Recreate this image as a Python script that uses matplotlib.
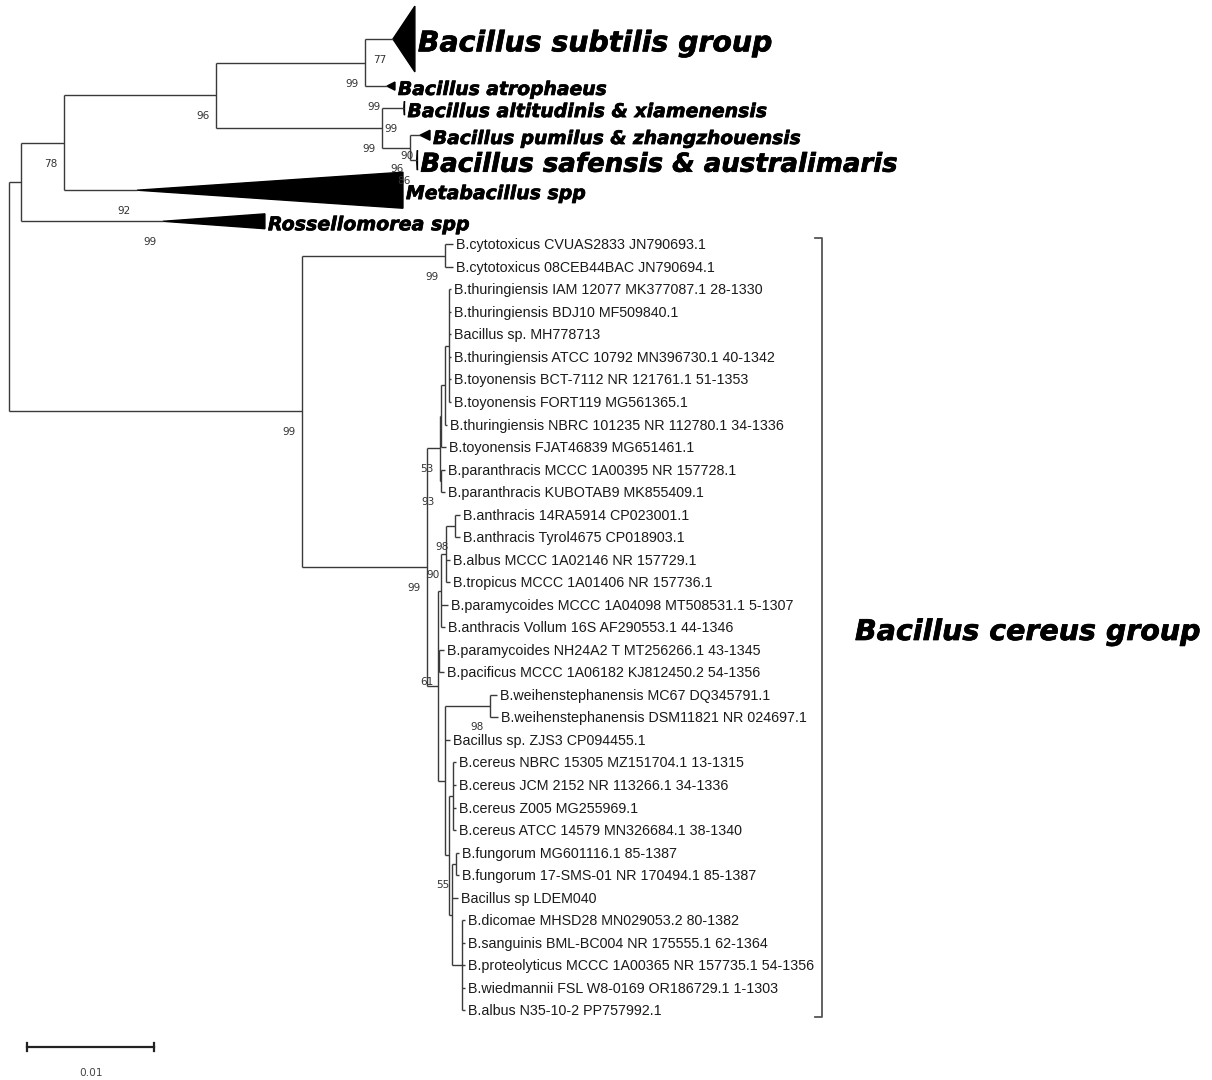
import matplotlib
matplotlib.use("Agg")
import matplotlib.pyplot as plt
import matplotlib.patheffects as pe
from matplotlib.transforms import offset_copy
from matplotlib.patches import Polygon

# ---------------------------------------------------------------- data
# Collapsed clades (k0..k6): names, internal depth of the collapsed wedge,
# wedge half-height (in rows) and bootstrap support of the clade.
COLLAPSED_NAMES = [
    "Bacillus subtilis group",
    "Bacillus atrophaeus",
    "Bacillus altitudinis & xiamenensis",
    "Bacillus pumilus & zhangzhouensis",
    "Bacillus safensis & australimaris",
    "Metabacillus spp",
    "Rossellomorea spp",
]
COLLAPSED_DEPTH = [0.00173, 0.00063, 0.00004, 0.00079, 0.00004, 0.02094, 0.00803]
COLLAPSED_HALF = [1.46, 0.18, 0.31, 0.22, 0.44, 0.80, 0.33]
COLLAPSED_SUPPORT = [77, 99, 99, 90, 86, 92, 99]
COLLAPSED_SIZE = [20.4, 13.5, 13.6, 13.4, 18.7, 13.6, 13.7]

# Terminal taxa of the B. cereus group (c0..c34)
CEREUS_TAXA = [
    "B.cytotoxicus CVUAS2833 JN790693.1",
    "B.cytotoxicus 08CEB44BAC JN790694.1",
    "B.thuringiensis IAM 12077 MK377087.1 28-1330",
    "B.thuringiensis BDJ10 MF509840.1",
    "Bacillus sp. MH778713",
    "B.thuringiensis ATCC 10792 MN396730.1 40-1342",
    "B.toyonensis BCT-7112 NR 121761.1 51-1353",
    "B.toyonensis FORT119 MG561365.1",
    "B.thuringiensis NBRC 101235 NR 112780.1 34-1336",
    "B.toyonensis FJAT46839 MG651461.1",
    "B.paranthracis MCCC 1A00395 NR 157728.1",
    "B.paranthracis KUBOTAB9 MK855409.1",
    "B.anthracis 14RA5914 CP023001.1",
    "B.anthracis Tyrol4675 CP018903.1",
    "B.albus MCCC 1A02146 NR 157729.1",
    "B.tropicus MCCC 1A01406 NR 157736.1",
    "B.paramycoides MCCC 1A04098 MT508531.1 5-1307",
    "B.anthracis Vollum 16S AF290553.1 44-1346",
    "B.paramycoides NH24A2 T MT256266.1 43-1345",
    "B.pacificus MCCC 1A06182 KJ812450.2 54-1356",
    "B.weihenstephanensis MC67 DQ345791.1",
    "B.weihenstephanensis DSM11821 NR 024697.1",
    "Bacillus sp. ZJS3 CP094455.1",
    "B.cereus NBRC 15305 MZ151704.1 13-1315",
    "B.cereus JCM 2152 NR 113266.1 34-1336",
    "B.cereus Z005 MG255969.1",
    "B.cereus ATCC 14579 MN326684.1 38-1340",
    "B.fungorum MG601116.1 85-1387",
    "B.fungorum 17-SMS-01 NR 170494.1 85-1387",
    "Bacillus sp LDEM040",
    "B.dicomae MHSD28 MN029053.2 80-1382",
    "B.sanguinis BML-BC004 NR 175555.1 62-1364",
    "B.proteolyticus MCCC 1A00365 NR 157735.1 54-1356",
    "B.wiedmannii FSL W8-0169 OR186729.1 1-1303",
    "B.albus N35-10-2 PP757992.1",
]

# Topology, branch lengths (substitutions/site) and bootstrap values (Newick)
BACILLUS_SS = (
    "((((k0:0.00220,k1:0.00173)99:0.01173,"
    "(k2:0.00173,(k3:0.00079,k4:0.00055)96:0.00220)99:0.01307)96:0.01197,"
    "k5:0.00575)78:0.00339,k6:0.01118):0.00094"
)
THURINGIENSIS_CLADE = (
    "((((c2:0.0002,c3:0.0002,c4:0.0002,c5:0.0002,c6:0.0002,c7:0.0002):0.00031,"
    "c8:0.0002):0.00031,c9:0.0004):0.00008,(c10:0.0003,c11:0.0003)93:0.00008)53"
)
ANTHRACIS_CLADE = (
    "(((c12:0.0004,c13:0.0004)98:0.00071,c14:0.0003,c15:0.0003)90:0.00039,"
    "c16:0.00055,c17:0.0003)"
)
PACIFICUS_CLADE = "(c18:0.0004,c19:0.0004)61"
MYCOIDES_CLADE = (
    "((c27:0.00024,c28:0.00024)55:0.00031,c29:0.00047,"
    "(c30:0.00024,c31:0.00024,c32:0.00024,c33:0.00024,c34:0.00024):0.00079)"
)
CEREUS_CLADE = (
    "((c23:0.00024,c24:0.00024,c25:0.00024,c26:0.00024):0.00031,"
    + MYCOIDES_CLADE + ":0.00024)"
)
WEIHEN_CLADE = (
    "((c20:0.00055,c21:0.00063)98:0.00354,c22:0.0004," + CEREUS_CLADE + ":0.00031)"
)
CORE_CLADE = (
    "(" + ANTHRACIS_CLADE + ":0.00024," + PACIFICUS_CLADE + ":0.00008,"
    + WEIHEN_CLADE + ":0.00055)"
)
CEREUS_GROUP = (
    "((c0:0.00063,c1:0.00063)99:0.01126,"
    "(" + THURINGIENSIS_CLADE + ":0.00102," + CORE_CLADE + ":0.00087)99:0.00984"
    ")99:0.02307"
)
TREE_NEWICK = "(" + BACILLUS_SS + "," + CEREUS_GROUP + ");"

SCALE_LENGTH = 0.01
GROUP_LABEL = "Bacillus cereus group"

# ---------------------------------------------------------------- layout
ROW_PX = 22.53           # one leaf row in pixels
UNIT_PX = 12700.0        # pixels per substitution/site
ROOT_PX = 9.0            # left margin before the root
TOP_PX = 1.4             # top margin above the first row
COLLAPSED_ROWS = [3.34, 0.84, 1.12, 1.28, 0.94, 1.72, 1.04]


def parse_newick(text):
    s = text.strip().rstrip(";")
    pos = 0

    def node():
        nonlocal pos
        children = []
        if s[pos] == "(":
            pos += 1
            while True:
                children.append(node())
                if s[pos] == ",":
                    pos += 1
                    continue
                if s[pos] == ")":
                    pos += 1
                    break
        start = pos
        while pos < len(s) and s[pos] not in ":,();":
            pos += 1
        label = s[start:pos]
        bl = 0.0
        if pos < len(s) and s[pos] == ":":
            pos += 1
            start = pos
            while pos < len(s) and s[pos] not in ",();":
                pos += 1
            bl = float(s[start:pos])
        return {"children": children, "label": label, "bl": bl}

    return node()


tree = parse_newick(TREE_NEWICK)

# leaf row positions
leaf_y = {}
cursor = 0.0
for i, h in enumerate(COLLAPSED_ROWS):
    leaf_y["k%d" % i] = cursor + h / 2
    cursor += h
for i in range(len(CEREUS_TAXA)):
    leaf_y["c%d" % i] = cursor + 0.5
    cursor += 1.0


def layout(n, x0):
    n["x"] = x0 + n["bl"]
    if n["children"]:
        for c in n["children"]:
            layout(c, n["x"])
        n["y"] = (n["children"][0]["y"] + n["children"][-1]["y"]) / 2
    else:
        n["y"] = leaf_y[n["label"]]


tree["bl"] = 0.0
layout(tree, 0.0)

# ---------------------------------------------------------------- figure
fig = plt.figure(figsize=(12.12, 10.8), dpi=100)
ax = fig.add_axes([0, 0, 1, 1])
ax.set_xlim(-ROOT_PX / UNIT_PX, (1212 - ROOT_PX) / UNIT_PX)
ax.set_ylim((1080 - TOP_PX) / ROW_PX, -TOP_PX / ROW_PX)
ax.axis("off")

LINE = "#3a3a3a"
LW = 1.0
HEAVY = [pe.withStroke(linewidth=0.5, foreground="black")]


def px(dx, dy):
    return offset_copy(ax.transData, fig=fig, x=dx, y=dy, units="dots")


def support(x, y, value):
    ax.text(x, y, str(value), transform=px(-6, -21), ha="right", va="center",
            fontsize=7.6, family="DejaVu Sans", color="#333333")


def clade_label(x, y, text, size, dx):
    # baseline sits just below the vertical middle of the capitals
    cap_half = 0.365 * size * fig.dpi / 72.0
    ax.text(x, y, text, transform=px(dx, -(cap_half + 2)), ha="left",
            va="baseline", fontsize=size, family="DejaVu Sans", weight="bold",
            style="italic", color="black", path_effects=HEAVY)


def draw(n):
    ch = n["children"]
    if not ch:
        return
    ax.plot([n["x"], n["x"]], [ch[0]["y"], ch[-1]["y"]], color=LINE, lw=LW,
            solid_capstyle="butt")
    for c in ch:
        ax.plot([n["x"], c["x"]], [c["y"], c["y"]], color=LINE, lw=LW,
                solid_capstyle="butt")
        lab = c["label"]
        if c["children"]:
            if lab:
                support(c["x"], c["y"], lab)
            draw(c)
        elif lab.startswith("k"):
            i = int(lab[1:])
            x0, y0 = c["x"], c["y"]
            x1 = x0 + COLLAPSED_DEPTH[i]
            hh = COLLAPSED_HALF[i]
            ax.add_patch(Polygon([[x0, y0], [x1, y0 - hh], [x1, y0 + hh]],
                                 closed=True, facecolor="black",
                                 edgecolor="black", lw=1.0))
            clade_label(x1, y0, COLLAPSED_NAMES[i], COLLAPSED_SIZE[i], 3)
            support(x0, y0, COLLAPSED_SUPPORT[i])
        else:
            i = int(lab[1:])
            ax.text(c["x"], c["y"], CEREUS_TAXA[i], transform=px(3, -1),
                    ha="left", va="center", fontsize=10.3,
                    family=["Liberation Sans", "DejaVu Sans"], color="#1a1a1a")


draw(tree)

# bracket around the B. cereus group
first = leaf_y["c0"]
last = leaf_y["c%d" % (len(CEREUS_TAXA) - 1)]
bx = (822 - ROOT_PX) / UNIT_PX
btop, bbot = first - 0.27, last + 0.3
tick = 7 / UNIT_PX
ax.plot([bx - tick, bx, bx, bx - tick], [btop, btop, bbot, bbot],
        color="#555555", lw=1.3)
clade_label(bx, (btop + bbot) / 2, GROUP_LABEL, 20.5, 33)

# scale bar
sx = (27 - ROOT_PX) / UNIT_PX
sy = (1047 - TOP_PX) / ROW_PX
ax.plot([sx, sx + SCALE_LENGTH], [sy, sy], color="#222222", lw=1.6)
for xx in (sx, sx + SCALE_LENGTH):
    ax.plot([xx, xx], [sy - 4 / ROW_PX, sy + 4 / ROW_PX], color="#222222", lw=1.6)
ax.text(sx + SCALE_LENGTH / 2, sy, "%g" % SCALE_LENGTH, transform=px(0, -26),
        ha="center", va="center", fontsize=7.6, family="DejaVu Sans",
        color="#444444")

fig.savefig("out.png", dpi=100, facecolor="white")
